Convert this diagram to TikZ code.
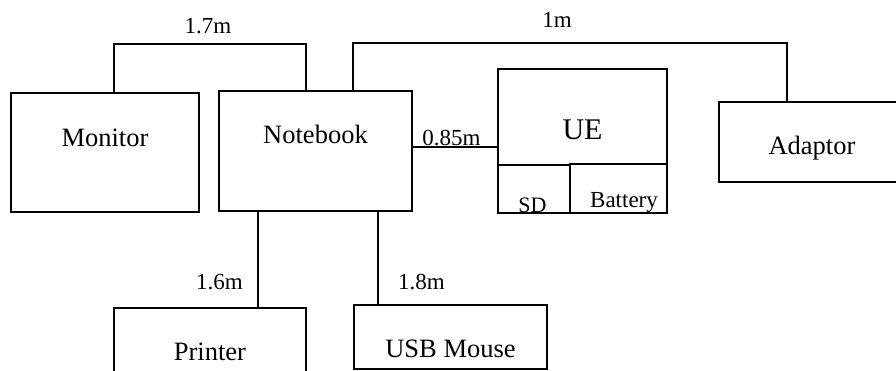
\documentclass[tikz,border=0pt]{standalone}
\usepackage{fontspec}
\setmainfont{Liberation Serif}
\usetikzlibrary{positioning}

\begin{document}
\begin{tikzpicture}[
        x=1pt, y=1pt,
        box/.style={
            draw,
            line width=1.5pt,
            inner sep=0pt
        },
        tag/.style={font=\fontsize{26.5}{30}\selectfont, inner sep=0pt, anchor=base},
        small/.style={font=\fontsize{23}{26}\selectfont, inner sep=0pt, anchor=base},
        wire/.style={line width=1.5pt}
    ]
        \useasboundingbox (0,0) rectangle (896,370);
        \clip (0,0) rectangle (896,370);
        \node[box, minimum width=188pt, minimum height=119pt] (monitor) at (105,217.5) {};
        \node[box, minimum width=193pt, minimum height=120pt] (notebook) at (315.5,219) {};
        \node[box, minimum width=169pt, minimum height=144pt] (ue) at (582.5,229) {};
        \node[box, minimum width=72pt, minimum height=48pt, anchor=south west] (sd) at (ue.south west) {};
        \node[box, minimum width=97pt, minimum height=49pt, anchor=south east] (battery) at (ue.south east) {};
        \node[box, minimum width=186pt, minimum height=80pt] (adaptor) at (812,228) {};
        \node[box, minimum width=192pt, minimum height=120pt] (printer) at (210,2) {};
        \node[box, minimum width=193pt, minimum height=64pt] (mouse) at (450.5,33) {};
        \node[tag] (monitortxt) at ([yshift=-54pt]monitor.north) {Monitor};
        \node[tag] (notebooktxt) at ([yshift=-53.5pt]notebook.north) {Notebook};
        \node[tag, font=\fontsize{30}{34}\selectfont] (uetxt) at ([yshift=-71pt]ue.north) {UE};
        \node[small, font=\fontsize{22}{25}\selectfont] (sdtxt) at ([xshift=-1.5pt, yshift=1.5pt]sd.south) {SD};
        \node[small] (batterytxt) at ([xshift=5.5pt, yshift=6.3pt]battery.south) {Battery};
        \node[tag] (adaptortxt) at ([yshift=-53pt]adaptor.north) {Adaptor};
        \node[tag] (printertxt) at ([yshift=-53.7pt]printer.north) {Printer};
        \node[tag] (mousetxt) at ([yshift=-53pt]mouse.north) {USB Mouse};
        \draw[wire] ([xshift=9pt]monitor.north) -- ++(0,48) -| ([xshift=-9.5pt]notebook.north);
        \draw[wire] ([xshift=37.5pt]notebook.north) -- ++(0,47) -| ([xshift=-25pt]adaptor.north);
        \draw[wire] ([yshift=4pt]notebook.east) -- ([yshift=-6pt]ue.west);
        \draw[wire] ([xshift=-57.5pt]notebook.south) -- ([xshift=48pt]printer.north);
        \draw[wire] ([xshift=62.5pt]notebook.south) -- ([xshift=-72.5pt]mouse.north);
        \node[small] (len1) at (208,336) {1.7m};
        \node[small] (len2) at (557,342) {1m};
        \node[small] (len3) at (451.5,225) {0.85m};
        \node[small] (len4) at (219.5,81) {1.6m};
        \node[small] (len5) at (421.5,81) {1.8m};
    \end{tikzpicture}
\end{document}
